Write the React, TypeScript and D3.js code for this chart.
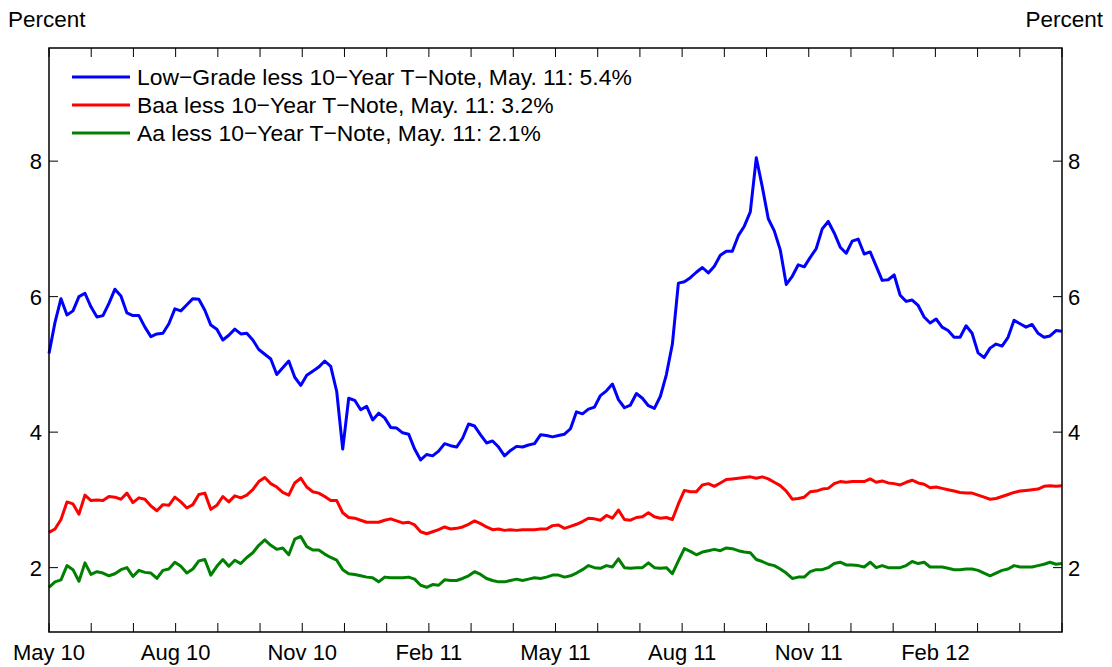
import React from 'react';
import * as d3 from 'd3';

// spreads, percent, sampled evenly from May 3 2010 to May 11 2012
const lowGrade = [
  5.16, 5.62, 5.97, 5.73, 5.79, 6.00, 6.05, 5.85, 5.70, 5.72,
  5.90, 6.11, 6.01, 5.76, 5.72, 5.72, 5.55, 5.41, 5.45, 5.46,
  5.60, 5.82, 5.79, 5.88, 5.97, 5.96, 5.80, 5.58, 5.52, 5.36,
  5.43, 5.52, 5.45, 5.46, 5.36, 5.22, 5.15, 5.08, 4.85, 4.95,
  5.05, 4.81, 4.69, 4.84, 4.90, 4.96, 5.05, 4.97, 4.60, 3.75,
  4.50, 4.47, 4.33, 4.38, 4.18, 4.28, 4.21, 4.07, 4.06, 3.99,
  3.97, 3.75, 3.59, 3.67, 3.65, 3.72, 3.83, 3.80, 3.78, 3.91,
  4.12, 4.09, 3.96, 3.84, 3.87, 3.78, 3.65, 3.73, 3.79, 3.78,
  3.81, 3.83, 3.96, 3.95, 3.93, 3.95, 3.97, 4.05, 4.30, 4.27,
  4.34, 4.37, 4.54, 4.61, 4.71, 4.48, 4.36, 4.40, 4.57, 4.50,
  4.39, 4.35, 4.53, 4.85, 5.30, 6.20, 6.22, 6.28, 6.36, 6.43,
  6.35, 6.45, 6.61, 6.67, 6.67, 6.90, 7.04, 7.25, 8.05, 7.62,
  7.15, 6.97, 6.69, 6.18, 6.30, 6.47, 6.44, 6.58, 6.71, 7.00,
  7.11, 6.94, 6.73, 6.64, 6.82, 6.85, 6.63, 6.66, 6.45, 6.24,
  6.25, 6.32, 6.02, 5.93, 5.95, 5.87, 5.70, 5.61, 5.67, 5.55,
  5.50, 5.40, 5.40, 5.57, 5.46, 5.17, 5.10, 5.24, 5.30, 5.27,
  5.40, 5.65, 5.60, 5.55, 5.59, 5.46, 5.40, 5.42, 5.50, 5.49,
];

const baa = [
  2.52, 2.57, 2.71, 2.97, 2.94, 2.79, 3.07, 2.99, 3.00, 2.99,
  3.05, 3.04, 3.01, 3.10, 2.96, 3.03, 3.01, 2.91, 2.84, 2.93,
  2.92, 3.04, 2.97, 2.88, 2.93, 3.08, 3.10, 2.86, 2.92, 3.05,
  2.97, 3.06, 3.03, 3.07, 3.15, 3.27, 3.33, 3.24, 3.19, 3.11,
  3.07, 3.25, 3.32, 3.19, 3.12, 3.10, 3.05, 2.99, 2.99, 2.81,
  2.74, 2.73, 2.70, 2.67, 2.67, 2.67, 2.70, 2.72, 2.69, 2.66,
  2.67, 2.63, 2.53, 2.50, 2.53, 2.56, 2.60, 2.57, 2.58, 2.60,
  2.64, 2.69, 2.65, 2.60, 2.56, 2.57, 2.55, 2.56, 2.55, 2.56,
  2.56, 2.56, 2.57, 2.57, 2.62, 2.63, 2.58, 2.61, 2.64, 2.68,
  2.73, 2.72, 2.70, 2.77, 2.73, 2.85, 2.71, 2.70, 2.74, 2.75,
  2.81, 2.75, 2.73, 2.74, 2.71, 2.94, 3.14, 3.12, 3.12, 3.22,
  3.24, 3.20, 3.25, 3.30, 3.31, 3.32, 3.33, 3.34, 3.32, 3.34,
  3.31, 3.26, 3.21, 3.13, 3.01, 3.02, 3.04, 3.12, 3.13, 3.16,
  3.17, 3.24, 3.27, 3.26, 3.27, 3.27, 3.27, 3.31, 3.26, 3.28,
  3.25, 3.24, 3.22, 3.26, 3.29, 3.25, 3.23, 3.18, 3.19, 3.17,
  3.15, 3.13, 3.11, 3.10, 3.10, 3.07, 3.04, 3.01, 3.02, 3.05,
  3.08, 3.11, 3.13, 3.14, 3.15, 3.16, 3.20, 3.21, 3.20, 3.21,
];

const aa = [
  1.71, 1.79, 1.82, 2.03, 1.97, 1.80, 2.07, 1.90, 1.94, 1.92,
  1.88, 1.91, 1.97, 2.00, 1.87, 1.96, 1.93, 1.92, 1.84, 1.96,
  1.98, 2.08, 2.02, 1.92, 1.98, 2.10, 2.12, 1.89, 2.02, 2.12,
  2.02, 2.11, 2.06, 2.15, 2.22, 2.33, 2.41, 2.33, 2.27, 2.29,
  2.19, 2.42, 2.46, 2.31, 2.26, 2.26, 2.20, 2.15, 2.11, 1.97,
  1.91, 1.90, 1.88, 1.86, 1.85, 1.79, 1.86, 1.85, 1.85, 1.85,
  1.86, 1.83, 1.74, 1.71, 1.75, 1.74, 1.82, 1.81, 1.81, 1.84,
  1.88, 1.94, 1.90, 1.84, 1.81, 1.79, 1.79, 1.81, 1.83, 1.81,
  1.83, 1.85, 1.84, 1.86, 1.89, 1.89, 1.86, 1.88, 1.92, 1.97,
  2.03, 2.00, 1.99, 2.03, 2.01, 2.13, 2.00, 1.99, 2.00, 2.00,
  2.07, 2.00, 1.99, 2.00, 1.91, 2.10, 2.28, 2.24, 2.19, 2.23,
  2.25, 2.27, 2.25, 2.29, 2.28, 2.25, 2.23, 2.22, 2.12, 2.09,
  2.05, 2.03, 1.98, 1.92, 1.84, 1.86, 1.86, 1.94, 1.97, 1.97,
  2.00, 2.06, 2.08, 2.04, 2.04, 2.03, 2.01, 2.08, 2.00, 2.03,
  2.00, 2.00, 2.00, 2.03, 2.09, 2.06, 2.08, 2.01, 2.01, 2.01,
  1.99, 1.97, 1.97, 1.98, 1.98, 1.96, 1.92, 1.88, 1.92, 1.96,
  1.98, 2.03, 2.01, 2.01, 2.01, 2.03, 2.05, 2.08, 2.05, 2.06,
];

const monthCount = 24; // May 10 .. May 12, one tick per month
const xLabels = ['May 10', 'Aug 10', 'Nov 10', 'Feb 11', 'May 11', 'Aug 11', 'Nov 11', 'Feb 12'];
const yTicks = [2, 4, 6, 8];
const legendLabels = [
  'Low\u2212Grade less 10\u2212Year T\u2212Note, May. 11: 5.4%',
  'Baa less 10\u2212Year T\u2212Note, May. 11: 3.2%',
  'Aa less 10\u2212Year T\u2212Note, May. 11: 2.1%',
];

const colors = ['#0000ff', '#ff0000', '#008000'];
const font = "'Liberation Sans', Arial, Helvetica, sans-serif";

export default function App() {
  const margin = { top: 48, right: 50, bottom: 35, left: 49 };
  const W = 1112, H = 667;
  const width = W - margin.left - margin.right;
  const height = H - margin.top - margin.bottom;

  const x = d3.scaleLinear().domain([0, monthCount]).range([0, width]);
  const y = d3.scaleLinear().domain([1.05, 9.67]).range([height, 0]);
  const n = lowGrade.length;
  const obs = d3.scaleLinear().domain([0, n - 1]).range([0, monthCount]);

  const line = d3.line<number>()
    .x((_, i) => x(obs(i)))
    .y(d => y(d));

  const series = [lowGrade, baa, aa];
  const tickLen = 9;
  const months = d3.range(0, monthCount + 1);

  return (
    <svg width={W} height={H} style={{ position: 'absolute', left: 0, top: 0, background: '#fff' }}
      fontFamily={font}>
      <text x={8} y={27} fontSize={22.5}>Percent</text>
      <text x={1103} y={27} fontSize={22.5} textAnchor="end">Percent</text>
      <g transform={`translate(${margin.left},${margin.top})`}>
        {series.map((s, k) => (
          <path key={k} d={line(s) || ''} fill="none" stroke={colors[k]} strokeWidth={3}
            strokeLinejoin="round" />
        ))}
        {months.map(m => (
          <g key={m} stroke="#000" strokeWidth={1}>
            <line x1={x(m)} x2={x(m)} y1={height} y2={height - tickLen} />
            <line x1={x(m)} x2={x(m)} y1={0} y2={tickLen} />
          </g>
        ))}
        {xLabels.map((lab, i) => (
          <text key={lab} x={x(i * 3)} y={height + 28} fontSize={22} textAnchor="middle">{lab}</text>
        ))}
        {yTicks.map(t => (
          <g key={t}>
            <line x1={0} x2={tickLen} y1={y(t)} y2={y(t)} stroke="#000" />
            <line x1={width} x2={width - tickLen} y1={y(t)} y2={y(t)} stroke="#000" />
            <text x={-7} y={y(t)} dy="0.36em" fontSize={22} textAnchor="end">{t}</text>
            <text x={width + 6} y={y(t)} dy="0.36em" fontSize={22}>{t}</text>
          </g>
        ))}
        <rect x={0} y={0} width={width} height={height} fill="none" stroke="#000" strokeWidth={1.5} />
        {legendLabels.map((lab, i) => (
          <g key={lab} transform={`translate(23,${29 + i * 28})`}>
            <line x1={0} x2={58} y1={0} y2={0} stroke={colors[i]} strokeWidth={3} />
            <text x={65} y={0} dy="0.36em" fontSize={22.9}>{lab}</text>
          </g>
        ))}
      </g>
    </svg>
  );
}
